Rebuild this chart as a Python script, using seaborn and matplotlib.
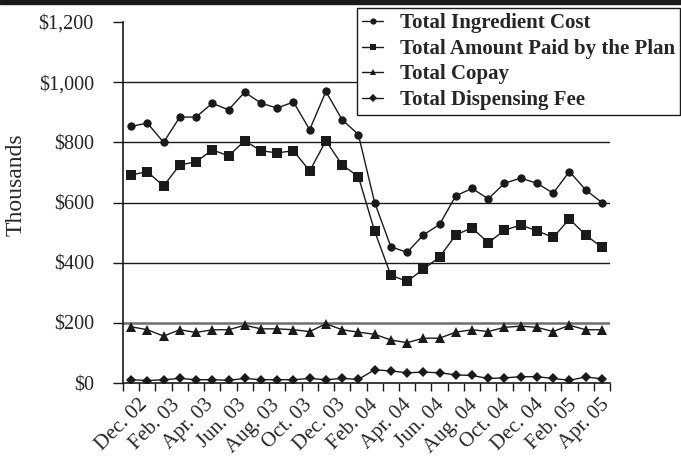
import numpy as np
import pandas as pd
import matplotlib.pyplot as plt
from matplotlib.patches import Rectangle
import seaborn as sns

# monthly values, in thousands of dollars
ingredient_cost = [853, 864, 800, 884, 884, 930, 908, 967, 930, 914, 934, 842, 969, 875, 826,
                   600, 453, 434, 492, 527, 622, 647, 612, 664, 681, 664, 631, 703, 642, 600]
amount_paid = [692, 702, 655, 725, 735, 775, 755, 805, 772, 765, 772, 705, 805, 725, 686,
               505, 358, 338, 378, 419, 492, 516, 466, 508, 525, 506, 484, 545, 492, 451]
copay = [187, 177, 156, 177, 168, 177, 177, 192, 180, 180, 177, 171, 197, 177, 169,
         162, 143, 134, 149, 149, 169, 177, 171, 185, 189, 185, 171, 192, 177, 177]
dispensing_fee = [11, 8, 11, 15, 11, 11, 9, 15, 11, 11, 11, 15, 11, 15, 12,
                  44, 40, 34, 36, 34, 27, 25, 15, 17, 21, 21, 15, 9, 20, 14]

tick_labels = ['Dec. 02', 'Feb. 03', 'Apr. 03', 'Jun. 03', 'Aug. 03', 'Oct. 03', 'Dec. 03',
               'Feb. 04', 'Apr. 04', 'Jun. 04', 'Aug. 04', 'Oct. 04', 'Dec. 04', 'Feb. 05', 'Apr. 05']

series = {'Total Ingredient Cost': ingredient_cost,
          'Total Amount Paid by the Plan': amount_paid,
          'Total Copay': copay,
          'Total Dispensing Fee': dispensing_fee}
n = len(ingredient_cost)
df = pd.DataFrame([(name, i, v) for name, vals in series.items() for i, v in enumerate(vals)],
                  columns=['series', 'month', 'value'])

sns.set_theme(style='white')
plt.rcParams['font.family'] = ['Liberation Serif', 'DejaVu Serif']

fig = plt.figure(figsize=(6.81, 4.59), dpi=100)
ax = fig.add_axes([123 / 681, 1 - 383 / 459, 487 / 681, 361 / 459])

# horizontal grid lines
for yv in [400, 600, 800, 1000]:
    ax.axhline(yv, color='#1a1a1a', lw=1.0, zorder=1)
ax.axhline(200, color='#6e6e6e', lw=1.8, zorder=1)

styles = {'Total Ingredient Cost': ('o', 6),
          'Total Amount Paid by the Plan': ('s', 6.5),
          'Total Copay': ('^', 7),
          'Total Dispensing Fee': ('D', 5)}
for name, (mk, ms) in styles.items():
    sns.lineplot(data=df[df['series'] == name], x='month', y='value', ax=ax,
                 color='#1a1a1a', marker=mk, markersize=ms, markeredgewidth=0,
                 lw=1.0, label=name, zorder=3)

ax.set_xlim(-0.5, n - 0.5)
ax.set_ylim(0, 1200)
ax.set_yticks(range(0, 1201, 200))
ax.set_yticklabels(['${:,.0f}'.format(v) for v in range(0, 1201, 200)], fontsize=14.5)
ax.tick_params(axis='y', length=7, width=1, color='#1a1a1a', pad=14, direction='out', left=True)

ax.set_xticks(np.arange(-0.5, n, 1), minor=True)
ax.set_xticks(np.linspace(0.4, 28.9, len(tick_labels)))
ax.set_xticklabels(tick_labels, rotation=45, ha='right', rotation_mode='anchor', fontsize=15)
ax.tick_params(axis='x', which='major', length=0, pad=9)
ax.tick_params(axis='x', which='minor', length=6, width=1, color='#1a1a1a', direction='out', bottom=True)

ax.set_xlabel('')
ax.set_ylabel('Thousands', fontsize=17)
ax.yaxis.set_label_coords(-0.198, 0.55)

for s in ['top', 'right']:
    ax.spines[s].set_visible(False)
for s in ['left', 'bottom']:
    ax.spines[s].set_color('#1a1a1a')
    ax.spines[s].set_linewidth(1.2)

leg = ax.legend(loc='upper left', bbox_to_anchor=(357 / 681, 1 - 8 / 459),
                bbox_transform=fig.transFigure, frameon=True, fancybox=False,
                edgecolor='#1a1a1a', framealpha=1, prop={'weight': 'bold', 'size': 15},
                handlelength=1.0, handletextpad=0.8, borderpad=0.25, labelspacing=0.27,
                borderaxespad=0)
leg.get_frame().set_linewidth(1.0)
leg.set_zorder(5)
for h in leg.legend_handles:
    h.set_markersize(4.5)

# black bar at the top
fig.patches.append(Rectangle((0, 1 - 4 / 459), 1, 4 / 459, transform=fig.transFigure,
                             color='#1a1a1a', zorder=10))

fig.savefig('out.png', dpi=100)
